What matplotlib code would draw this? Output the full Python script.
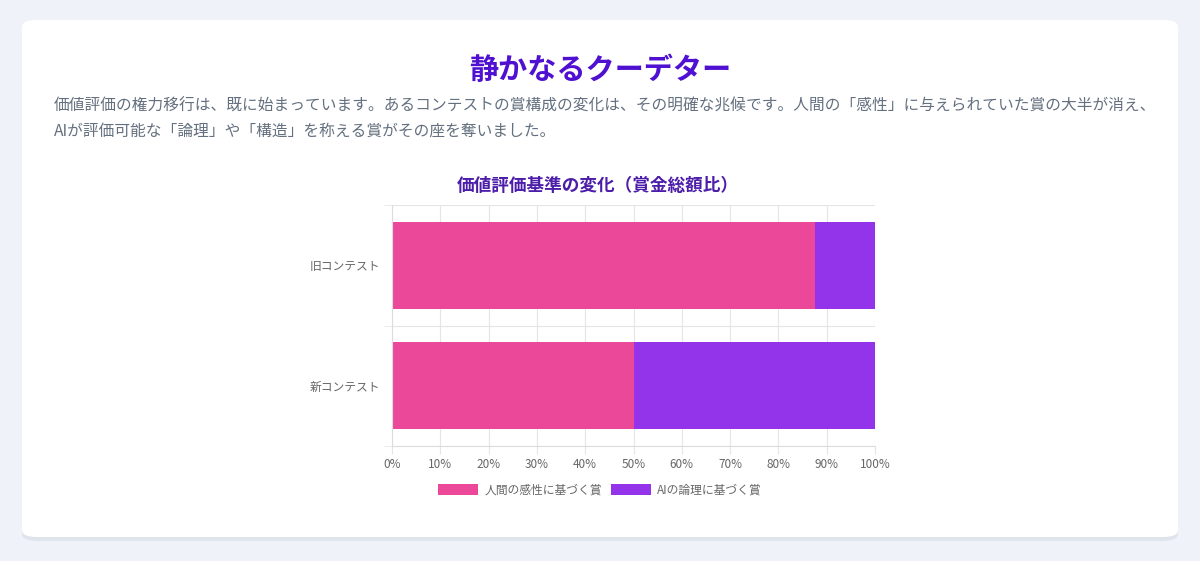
import matplotlib
matplotlib.use("Agg")
import matplotlib.pyplot as plt
from matplotlib.patches import FancyBboxPatch, Patch
import numpy as np

plt.rcParams["font.family"] = ["Noto Sans CJK JP", "DejaVu Sans"]

# データ
categories = ["旧コンテスト", "新コンテスト"]
human_share = [87.5, 50.0]
ai_share = [12.5, 50.0]
series_labels = ["人間の感性に基づく賞", "AIの論理に基づく賞"]
x_ticks = list(range(0, 101, 10))

title = "静かなるクーデター"
subtitle = [
    "価値評価の権力移行は、既に始まっています。あるコンテストの賞構成の変化は、その明確な兆候です。人間の「感性」に与えられていた賞の大半が消え、",
    "AIが評価可能な「論理」や「構造」を称える賞がその座を奪いました。",
]
chart_title = "価値評価基準の変化（賞金総額比）"

# 色
C_BG = "#eff2f8"
C_HUMAN = "#ec4899"
C_AI = "#9333ea"
C_TITLE = "#4f10d2"
C_CTITLE = "#4c1da8"
C_TEXT = "#64707f"
C_TICK = "#666666"
C_GRID = "#e5e5e5"

W, H = 1200, 561
PX = 0.72  # 1px をポイントに換算 (dpi=100)
fig = plt.figure(figsize=(W / 100, H / 100), dpi=100, facecolor=C_BG)

# カード（影 + 本体）
for off, col, a in [(4, "#d5dae3", 0.5), (2, "#dde1e9", 0.6)]:
    fig.patches.append(FancyBboxPatch(
        (22 / W, (H - 537 - off) / H), 1156 / W, 517 / H,
        boxstyle="round,pad=0,rounding_size=0.012",
        transform=fig.transFigure, fc=col, ec="none", alpha=a, zorder=0))
fig.patches.append(FancyBboxPatch(
    (22 / W, (H - 537) / H), 1156 / W, 517 / H,
    boxstyle="round,pad=0,rounding_size=0.012",
    transform=fig.transFigure, fc="white", ec="none", zorder=1))

# テキスト
fig.text(600 / W, 1 - 70 / H, title, ha="center", va="center",
         fontsize=21, fontweight="bold", color=C_TITLE)
for i, line in enumerate(subtitle):
    fig.text(54 / W, 1 - (106 + 25 * i) / H, line, ha="left", va="center",
             fontsize=11.3, color=C_TEXT)
fig.text(598 / W, 1 - 186 / H, chart_title, ha="center", va="center",
         fontsize=12.7, fontweight="bold", color=C_CTITLE)

# 棒グラフ
ax = fig.add_axes([392 / W, 1 - 446 / H, 483 / W, 241 / H])
ax.set_zorder(3)
ax.set_facecolor("white")
y = np.arange(len(categories))
ax.barh(y, human_share, height=0.72, color=C_HUMAN, label=series_labels[0], zorder=2)
ax.barh(y, ai_share, left=human_share, height=0.72, color=C_AI,
        label=series_labels[1], zorder=2)

ax.set_xlim(0, 100)
ax.set_ylim(len(categories) - 0.5, -0.5)
ax.set_xticks(x_ticks)
ax.set_xticklabels([f"{t}%" for t in x_ticks])
ax.set_yticks(y)
ax.set_yticklabels(categories)
ax.set_yticks(np.arange(-0.5, len(categories)), minor=True)

ax.grid(axis="x", color=C_GRID, lw=0.8, zorder=0)
ax.grid(axis="y", which="minor", color=C_GRID, lw=0.8, zorder=0)
ax.tick_params(axis="x", length=8 * PX, color=C_GRID, labelsize=8.5,
               labelcolor=C_TICK, pad=4 * PX)
ax.tick_params(axis="y", which="major", length=0, labelsize=8.5,
               labelcolor=C_TICK, pad=12 * PX)
ax.tick_params(axis="y", which="minor", length=8 * PX, color=C_GRID)
for s in ["top", "right"]:
    ax.spines[s].set_visible(False)
for s in ["left", "bottom"]:
    ax.spines[s].set_color("#dcdcdc")
    ax.spines[s].set_linewidth(0.8)

handles = [Patch(fc=C_HUMAN, ec="none"), Patch(fc=C_AI, ec="none")]
leg = fig.legend(handles, series_labels, loc="center", ncol=2,
                 bbox_to_anchor=(600 / W, 1 - 490 / H), frameon=False,
                 fontsize=8.5, labelcolor=C_TICK, handlelength=3.4,
                 handleheight=1.0, handletextpad=0.5, columnspacing=0.8)
leg.set_zorder(4)

fig.savefig("out.png", dpi=100, facecolor=C_BG)
